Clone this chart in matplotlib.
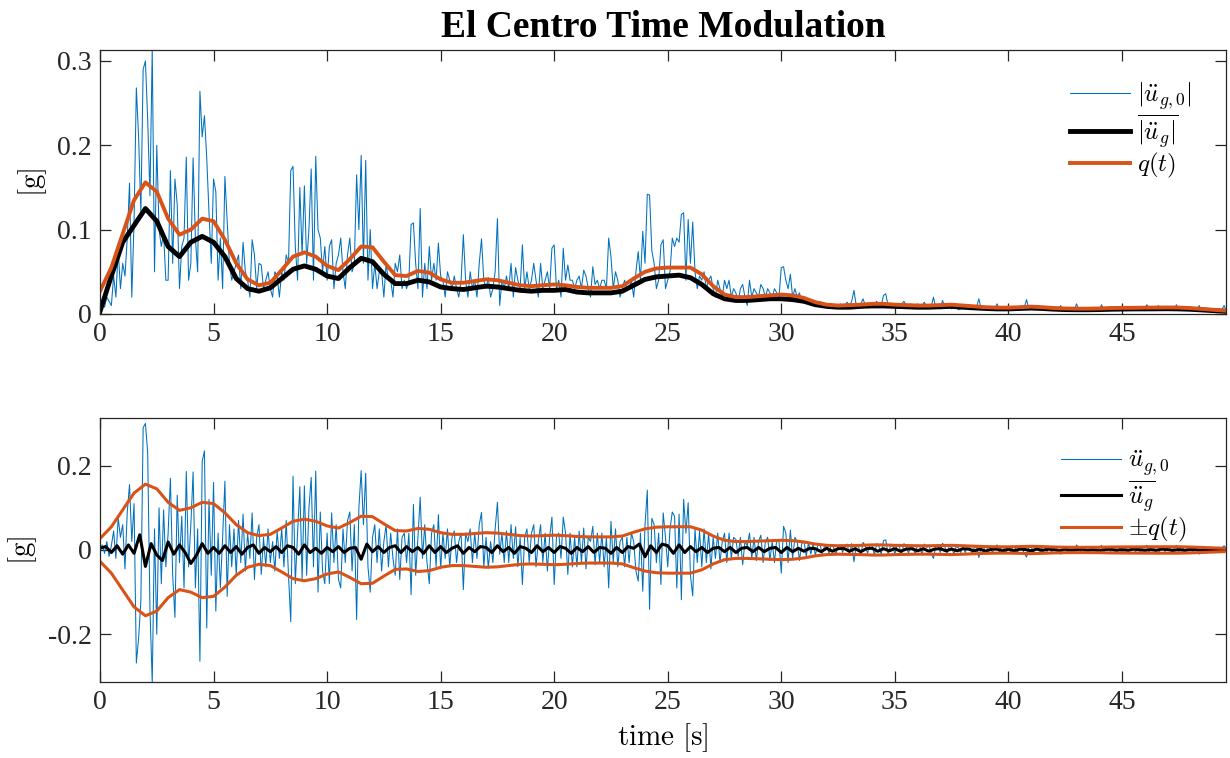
# El Centro record: ground accel, its mean, and the time modulation q(t)

import numpy as np
import matplotlib
matplotlib.use('Agg')
import matplotlib.pyplot as plt

# ground acceleration [g], sampled every 0.1 s
ug0 = [
    0.000, 0.012, -0.008, 0.020, -0.015, 0.010, 0.045, -0.020, 0.076, 0.030,
    0.060, -0.045, 0.090, 0.155, 0.020, 0.110, -0.268, -0.210, -0.120, 0.290,
    0.300, 0.230, -0.140, -0.315, 0.050, -0.200, 0.100, -0.080, 0.095, -0.040,
    0.040, 0.170, -0.060, -0.160, 0.130, -0.030, 0.080, -0.090, 0.186, -0.040,
    0.060, 0.185, -0.090, 0.050, -0.264, 0.210, 0.235, -0.185, 0.120, -0.060,
    0.160, -0.145, 0.040, -0.090, 0.030, 0.163, -0.110, 0.060, -0.040, 0.050,
    -0.060, 0.070, -0.030, 0.085, -0.050, 0.040, -0.020, 0.088, -0.070, 0.030,
    0.060, -0.058, 0.030, -0.040, 0.050, -0.030, 0.020, -0.050, 0.045, -0.020,
    0.050, -0.040, 0.070, -0.060, -0.170, 0.175, -0.080, 0.040, 0.150, -0.070,
    0.152, -0.060, 0.100, 0.172, -0.040, 0.187, -0.100, 0.090, -0.050, -0.080,
    0.040, -0.080, 0.088, -0.030, 0.060, -0.070, -0.090, 0.050, -0.030, 0.070,
    0.090, -0.050, 0.060, -0.165, 0.100, 0.188, 0.060, 0.182, -0.040, -0.100,
    0.030, 0.060, -0.030, 0.050, -0.050, 0.020, 0.060, -0.040, 0.040, -0.020,
    -0.060, 0.050, -0.070, 0.030, 0.040, -0.030, 0.040, -0.106, 0.108, -0.060,
    0.030, 0.125, -0.020, 0.060, -0.030, -0.080, 0.040, 0.060, -0.040, 0.084,
    -0.045, 0.040, -0.020, 0.050, -0.040, 0.030, 0.045, -0.030, 0.020, 0.040,
    -0.094, 0.040, 0.020, 0.050, -0.030, 0.040, -0.020, 0.060, 0.089, -0.040,
    0.030, -0.043, 0.020, -0.030, 0.050, 0.113, -0.010, 0.040, -0.030, 0.045,
    -0.030, 0.060, -0.020, 0.055, -0.040, 0.030, -0.082, 0.030, 0.050, -0.030,
    0.040, 0.060, -0.040, 0.020, 0.060, -0.030, 0.040, -0.050, 0.030, 0.078,
    -0.082, 0.030, 0.040, -0.020, 0.078, 0.040, -0.058, 0.040, -0.040, 0.030,
    -0.040, 0.045, -0.030, 0.052, -0.045, 0.030, 0.020, 0.056, -0.035, 0.040,
    -0.030, 0.040, -0.040, 0.030, -0.090, 0.068, -0.030, 0.050, -0.040, 0.020,
    0.030, -0.040, 0.030, -0.030, 0.040, 0.020, -0.050, -0.074, 0.040, -0.098,
    0.060, 0.142, -0.141, 0.075, 0.060, -0.030, 0.040, -0.082, 0.088, 0.030,
    -0.040, 0.050, 0.090, 0.080, -0.090, 0.085, -0.118, 0.120, 0.040, 0.112,
    -0.060, -0.109, 0.050, -0.030, 0.045, -0.040, 0.050, -0.030, 0.040, -0.045,
    0.030, -0.020, 0.040, -0.030, 0.020, 0.040, -0.030, 0.040, -0.020, 0.030,
    0.025, -0.015, 0.030, -0.035, 0.020, 0.010, 0.040, -0.020, 0.030, -0.025,
    0.020, 0.035, -0.030, 0.020, 0.030, -0.025, 0.020, -0.030, 0.025, 0.020,
    -0.055, 0.056, 0.040, -0.030, 0.047, -0.020, 0.030, 0.020, -0.025, 0.015,
    0.020, -0.015, 0.018, -0.010, 0.015, -0.012, 0.010, 0.015, -0.010, 0.008,
    0.010, -0.008, 0.012, 0.006, -0.010, 0.008, 0.012, -0.006, 0.010, 0.014,
    -0.010, 0.015, -0.028, 0.010, 0.008, -0.012, 0.018, 0.010, -0.008, 0.012,
    0.010, -0.012, 0.015, 0.008, -0.010, 0.022, 0.024, -0.010, 0.008, 0.012,
    -0.010, 0.012, 0.008, -0.012, 0.015, 0.010, -0.008, 0.012, 0.006, -0.010,
    0.012, 0.008, -0.010, 0.014, 0.006, 0.010, -0.008, -0.020, 0.008, 0.010,
    -0.006, 0.016, 0.008, -0.008, 0.010, 0.006, -0.010, 0.008, 0.005, -0.006,
    0.008, -0.006, 0.010, 0.005, -0.008, 0.006, 0.008, -0.018, 0.006, 0.008,
    -0.006, 0.008, 0.005, -0.006, 0.006, 0.012, -0.006, 0.008, 0.004, -0.005,
    0.006, -0.005, 0.008, 0.004, -0.006, 0.007, 0.005, -0.008, -0.017, 0.006,
    0.008, -0.006, 0.005, 0.007, -0.005, 0.006, 0.008, -0.004, 0.006, -0.005,
    0.005, 0.006, -0.004, -0.010, 0.005, 0.004, -0.005, 0.006, 0.004, -0.004,
    0.012, 0.005, -0.004, 0.006, 0.004, -0.005, 0.006, 0.003, -0.004, 0.005,
    0.004, 0.011, -0.005, 0.005, 0.004, -0.004, 0.006, 0.005, -0.004, 0.005,
    -0.009, 0.005, 0.004, -0.005, 0.006, 0.004, -0.005, 0.005, -0.009, 0.006,
    0.005, 0.011, -0.005, 0.006, 0.004, -0.005, -0.010, 0.006, 0.005, -0.004,
    0.006, 0.005, -0.005, 0.004, 0.011, -0.004, 0.005, 0.004, -0.008, 0.005,
    0.004, -0.004, 0.005, 0.003, -0.010, 0.004, 0.005, -0.003, 0.004, 0.003,
    -0.003, 0.004, 0.003, -0.004, 0.005, 0.010, 0.003,
]

# mean of the generated records (signed), every 0.25 s
ug_mean = [
    0.004, 0.008, -0.006, 0.010, -0.010, 0.012, -0.008, 0.036, -0.039, 0.015,
    -0.012, -0.025, 0.019, -0.010, 0.012, -0.006, -0.032, -0.012, 0.015, -0.008,
    0.006, -0.008, 0.010, -0.006, 0.008, -0.010, 0.006, 0.012, -0.008, 0.006,
    -0.004, 0.008, -0.006, 0.010, 0.006, -0.010, 0.012, -0.006, 0.004, -0.008,
    0.006, -0.004, 0.008, -0.006, 0.004, 0.006, -0.022, 0.014, -0.004, 0.008,
    -0.006, 0.006, 0.010, -0.006, 0.008, -0.004, 0.006, -0.008, 0.010, -0.006,
    0.008, -0.006, 0.004, 0.010, -0.008, 0.006, -0.004, 0.008, 0.006, -0.006,
    0.010, -0.004, 0.006, -0.008, 0.008, 0.004, -0.006, 0.010, -0.004, 0.006,
    -0.006, 0.008, 0.004, -0.008, 0.006, -0.004, 0.008, -0.006, 0.006, 0.004,
    -0.008, 0.006, -0.006, 0.008, 0.004, 0.014, -0.016, 0.010, -0.006, 0.014,
    0.010, -0.008, 0.012, -0.006, 0.008, -0.004, 0.006, -0.006, 0.004, 0.006,
    -0.004, 0.006, -0.006, 0.004, 0.006, -0.004, 0.006, -0.004, 0.004, 0.006,
    -0.006, 0.006, -0.004, 0.004, -0.003, 0.004, 0.003, -0.004, 0.004, -0.003,
    0.003, 0.004, -0.003, 0.003, -0.004, 0.003, 0.004, -0.003, 0.003, -0.002,
    0.003, -0.003, 0.002, 0.003, -0.002, 0.003, -0.003, 0.002, 0.003, -0.002,
    0.002, -0.002, 0.003, 0.002, -0.002, 0.002, -0.003, 0.002, 0.002, -0.002,
    0.002, -0.002, 0.002, 0.001, -0.002, 0.002, -0.001, 0.002, 0.001, -0.002,
    0.002, -0.001, 0.001, 0.002, -0.001, 0.001, -0.002, 0.001, 0.002, -0.001,
    0.001, -0.001, 0.002, 0.001, -0.001, 0.001, -0.001, 0.002, 0.001, -0.001,
    0.001, -0.001, 0.001, 0.001, -0.001, 0.001, -0.001, 0.001, 0.000,
]

# mean of |ug| over the generated records, every 0.5 s
abs_mean = [
    0.003, 0.045, 0.085, 0.105, 0.125, 0.110, 0.080, 0.068, 0.085, 0.092,
    0.085, 0.068, 0.042, 0.030, 0.027, 0.031, 0.042, 0.053, 0.057, 0.053,
    0.045, 0.042, 0.055, 0.066, 0.062, 0.047, 0.036, 0.036, 0.040, 0.038,
    0.032, 0.030, 0.029, 0.031, 0.033, 0.032, 0.030, 0.028, 0.027, 0.028,
    0.028, 0.029, 0.026, 0.025, 0.025, 0.025, 0.027, 0.034, 0.041, 0.044,
    0.045, 0.046, 0.043, 0.035, 0.024, 0.018, 0.016, 0.016, 0.017, 0.018,
    0.018, 0.017, 0.015, 0.011, 0.009, 0.008, 0.008, 0.009, 0.0095, 0.0095,
    0.009, 0.0085, 0.008, 0.008, 0.0085, 0.009, 0.008, 0.0072, 0.0065, 0.006,
    0.006, 0.0065, 0.007, 0.0065, 0.0057, 0.0052, 0.005, 0.005, 0.0052, 0.0056,
    0.0058, 0.006, 0.006, 0.0061, 0.0062, 0.006, 0.0056, 0.0048, 0.004, 0.0032,
]

# modulating function q(t), every 0.5 s
q = [
    0.027, 0.055, 0.095, 0.135, 0.156, 0.145, 0.113, 0.094, 0.100, 0.113,
    0.110, 0.088, 0.060, 0.041, 0.034, 0.037, 0.052, 0.068, 0.073, 0.068,
    0.057, 0.052, 0.065, 0.080, 0.079, 0.062, 0.046, 0.045, 0.051, 0.049,
    0.041, 0.037, 0.037, 0.039, 0.041, 0.040, 0.037, 0.034, 0.033, 0.034,
    0.035, 0.034, 0.032, 0.031, 0.031, 0.031, 0.033, 0.042, 0.050, 0.054,
    0.055, 0.055, 0.055, 0.047, 0.033, 0.023, 0.020, 0.020, 0.021, 0.022,
    0.023, 0.022, 0.019, 0.014, 0.011, 0.010, 0.0105, 0.011, 0.012, 0.012,
    0.011, 0.0105, 0.010, 0.010, 0.0105, 0.011, 0.010, 0.009, 0.008, 0.0075,
    0.0075, 0.008, 0.0087, 0.008, 0.007, 0.0065, 0.0063, 0.0063, 0.0065, 0.007,
    0.0072, 0.0073, 0.0075, 0.0076, 0.0077, 0.0076, 0.007, 0.006, 0.005, 0.004,
]

xticks = [0, 5, 10, 15, 20, 25, 30, 35, 40, 45]
yticks_top = [0, 0.1, 0.2, 0.3]
yticks_bot = [-0.2, 0, 0.2]
ytlab_top = ['0', '0.1', '0.2', '0.3']
ytlab_bot = ['-0.2', '0', '0.2']
tmax = 49.58
amax = 0.313

ug0 = np.array(ug0)
t_ug = np.arange(ug0.size) * 0.1
t_mean = np.arange(len(ug_mean)) * 0.25
t_q = np.arange(len(q)) * 0.5
q = np.array(q)

blue = '#0072BD'
orange = '#D95319'
axcol = '#262626'

plt.rcParams['font.family'] = ['Liberation Serif', 'DejaVu Serif']
plt.rcParams['mathtext.fontset'] = 'cm'
plt.rcParams['axes.unicode_minus'] = False
plt.rcParams['lines.solid_joinstyle'] = 'round'

fig = plt.figure(figsize=(12.3, 7.58), dpi=100)
ax1 = fig.add_axes([0.0813, 0.5858, 0.9154, 0.3483])
ax2 = fig.add_axes([0.0813, 0.1003, 0.9154, 0.3483])

# top: absolute values
ax1.plot(t_ug, np.abs(ug0), color=blue, lw=0.75, label=r'$|\ddot{u}_{g,0}|$')
ax1.plot(t_q, abs_mean, color='black', lw=3.5, label=r'$\overline{|\ddot{u}_g|}$')
ax1.plot(t_q, q, color=orange, lw=2.8, label=r'$q(t)$')
ax1.set_ylim(0, amax)
ax1.set_yticks(yticks_top)
ax1.set_yticklabels(ytlab_top)
ax1.set_title('El Centro Time Modulation', fontsize=27, fontweight='bold', pad=9)

# bottom: signed values
ax2.plot(t_ug, ug0, color=blue, lw=0.75, label=r'$\ddot{u}_{g,0}$')
ax2.plot(t_mean, ug_mean, color='black', lw=2.2, label=r'$\overline{\ddot{u}_g}$')
ax2.plot(t_q, q, color=orange, lw=2.2, label=r'$\pm q(t)$')
ax2.plot(t_q, -q, color=orange, lw=2.2)
ax2.set_ylim(-amax, amax)
ax2.set_yticks(yticks_bot)
ax2.set_yticklabels(ytlab_bot)
ax2.set_xlabel(r'$\mathrm{time}\ [\mathrm{s}]$', fontsize=21, labelpad=4)

for ax, bx in ((ax1, 0.99), (ax2, 0.985)):
    ax.set_xlim(0, tmax)
    ax.set_xticks(xticks)
    ax.set_ylabel(r'$[\mathrm{g}]$', fontsize=21, labelpad=6)
    ax.tick_params(direction='in', length=8, width=0.9, colors=axcol,
                   labelsize=20, labelcolor=axcol, top=True, right=True, pad=6)
    for s in ax.spines.values():
        s.set_color(axcol)
        s.set_linewidth(0.9)
    ax.legend(loc='upper right', bbox_to_anchor=(bx, 0.97), frameon=False,
              fontsize=18, handlelength=2.4, handletextpad=0.3, labelspacing=0.0)

fig.savefig('out.png', dpi=100)
